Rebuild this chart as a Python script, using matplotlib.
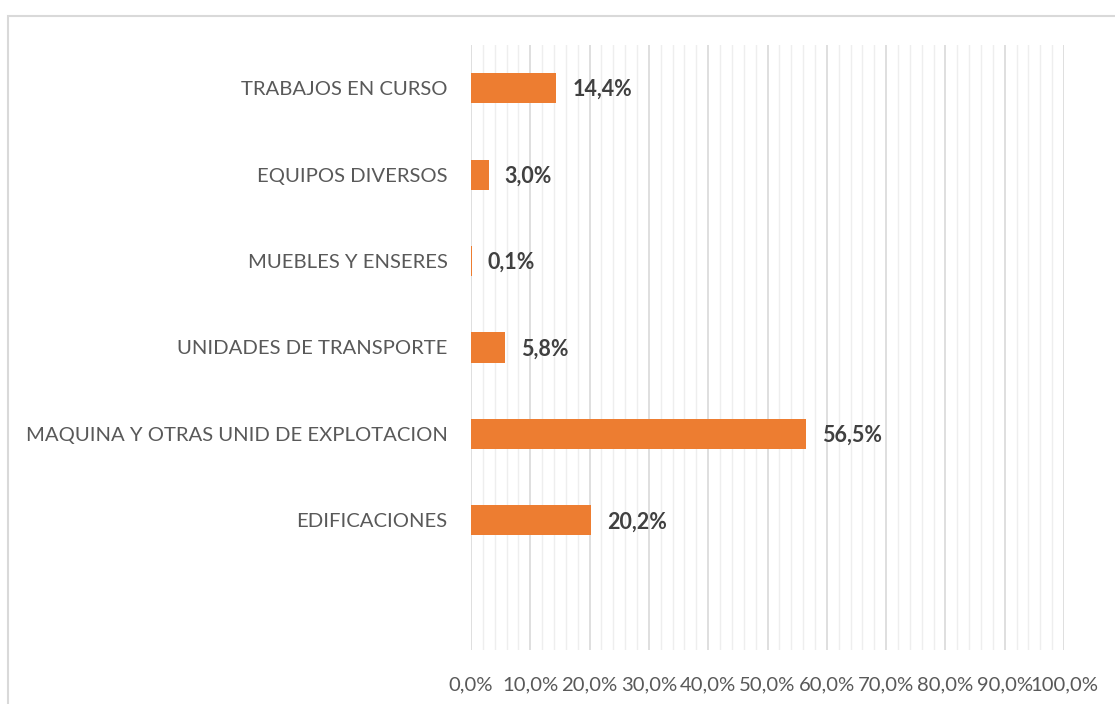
import numpy as np
import matplotlib.pyplot as plt
from matplotlib.patches import Rectangle
from matplotlib.ticker import MultipleLocator, FuncFormatter

# Data (bottom to top); empty slot at the bottom as in the source chart
categories = ["", "EDIFICACIONES", "MAQUINA Y OTRAS UNID DE EXPLOTACION",
              "UNIDADES DE TRANSPORTE", "MUEBLES Y ENSERES",
              "EQUIPOS DIVERSOS", "TRABAJOS EN CURSO"]
values = [np.nan, 20.2, 56.5, 5.8, 0.1, 3.0, 14.4]

plt.rcParams['font.family'] = ['Lato', 'DejaVu Sans']

W, H = 1115, 704
fig = plt.figure(figsize=(W / 100, H / 100), dpi=100)
ax = fig.add_axes([471 / W, 1 - 650 / H, (1064 - 471) / W, (650 - 45) / H])

# outer chart frame
fig.patches.append(Rectangle((8 / W, -0.1), 1.2, 1 - 16 / H + 0.1,
                             transform=fig.transFigure, fill=False,
                             edgecolor='#d9d9d9', linewidth=1.5))

y = np.arange(len(categories))
ax.barh(y, values, height=0.35, color='#ED7D31', zorder=3)

for yi, v in zip(y, values):
    if np.isnan(v):
        continue
    ax.annotate(f"{v:.1f}%".replace('.', ','), (v, yi), xytext=(11.5, -1),
                textcoords='offset points', va='center', ha='left',
                fontsize=15.5, fontweight='bold', color='#404040')

ax.set_xlim(0, 100)
ax.set_ylim(-0.5, len(categories) - 0.5)
ax.xaxis.set_major_locator(MultipleLocator(10))
ax.xaxis.set_minor_locator(MultipleLocator(2))
ax.xaxis.set_major_formatter(FuncFormatter(lambda x, p: f"{x:.1f}%".replace('.', ',')))
ax.grid(axis='x', which='major', color='#d9d9d9', linewidth=1.2, zorder=0)
ax.grid(axis='x', which='minor', color='#eeeeee', linewidth=1.0, zorder=0)
ax.set_yticks(y)
ax.set_yticklabels(categories)
ax.tick_params(axis='both', which='both', length=0, labelsize=14.6, labelcolor='#595959')
ax.tick_params(axis='y', pad=17)
ax.tick_params(axis='x', pad=19)
for s in ax.spines.values():
    s.set_visible(False)

fig.savefig("out.png", dpi=100)
